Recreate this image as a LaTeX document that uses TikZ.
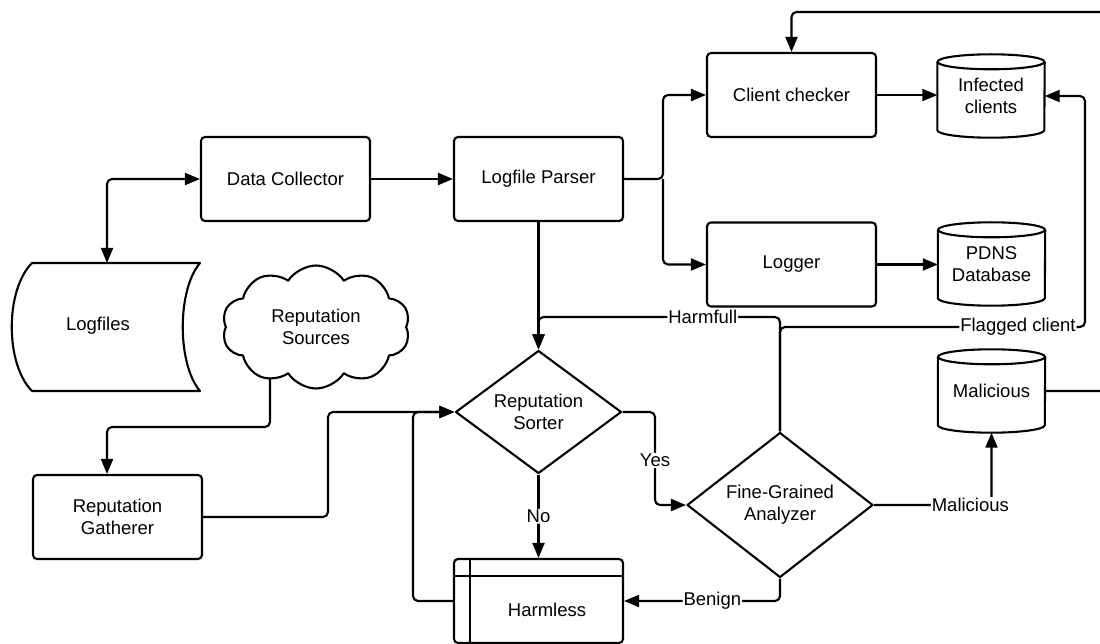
\documentclass[tikz,border=0pt]{standalone}
\usepackage{fontspec}
\setmainfont{Liberation Sans}
\usetikzlibrary{shapes.geometric,shapes.symbols,arrows.meta,calc}
\pgfdeclarelayer{bg}\pgfsetlayers{bg,main}
\newcommand\dfont{\fontsize{18.5}{22}\selectfont}
\newcommand\cyl[4]{%
  \node[cylt] (#1) at (#2,#3) {#4};
  \draw[ln] ([yshift=-7.5pt]#1.north west) -- ([yshift=7.5pt]#1.south west)
    arc[start angle=180,end angle=360,x radius=53.5pt,y radius=7.5pt]
    -- ([yshift=-7.5pt]#1.north east);
  \draw[ln] ([yshift=-7.5pt]#1.north) ellipse[x radius=53.5pt,y radius=7.5pt];
}
\begin{document}
\begin{tikzpicture}[x=1pt,y=1pt,
  ln/.style={line width=2.1pt, line join=round},
  conn/.style={ln, rounded corners=5pt},
  tip/.tip={Triangle[length=15pt,width=12pt]},
  arr/.style={conn, -tip},
  box/.style={ln, draw, rounded corners=4pt, fill=white, minimum width=169pt,
    minimum height=84pt, align=center, font=\dfont, inner sep=2pt},
  dia/.style={ln, draw, diamond, fill=white, inner sep=0pt, align=center, font=\dfont},
  cylt/.style={minimum width=107pt, minimum height=83pt, inner sep=0pt, align=center, font=\dfont},
  lab/.style={fill=white, inner sep=1pt, font=\dfont}]
\useasboundingbox (0,0) rectangle (1100,-644);

% nodes
\node[box] (dc) at (285.5,-179) {Data Collector};
\node[box] (lp) at (538.5,-179) {Logfile Parser};
\node[box] (cc) at (791.5,-95) {Client checker};
\node[box] (lg) at (791.5,-264.5) {Logger};
\node[box] (gath) at (117.5,-517) {Reputation\\Gatherer};
\node[box] (hl) at (538.5,-601) {\hspace*{17pt}\rule{0pt}{31pt}Harmless};
\draw[ln] ([xshift=17pt]hl.north west) -- ([xshift=17pt]hl.south west);
\draw[ln] ([yshift=-18pt]hl.north west) -- ([yshift=-18pt]hl.north east);

\node[dia, aspect=1.35, minimum width=166pt, minimum height=123pt] (rsort) at (538.5,-412) {Reputation\\Sorter};
\node[dia, aspect=1.28, minimum width=186pt, minimum height=145pt] (fg) at (780,-505) {Fine-Grained\\Analyzer};

\node[ln, draw, cloud, cloud puffs=10, cloud puff arc=115, aspect=1.5, fill=white,
  minimum width=188pt, minimum height=123pt, inner sep=0pt, align=center, font=\dfont]
  (rsrc) at (316,-327) {Reputation\\Sources};

\cyl{inf}{991}{-96}{Infected\\clients}
\cyl{pdns}{991.5}{-264}{PDNS\\Database}
\cyl{mal}{991.5}{-391}{Malicious}

% Logfiles storage shape
\node[font=\dfont] (logf) at (98,-326) {Logfiles};
\draw[ln] (32,-263) -- (200,-263)
  .. controls (177,-290) and (177,-364) .. (200,-391)
  -- (32,-391)
  .. controls (5,-364) and (5,-290) .. (32,-263) -- cycle;
\coordinate (lftop) at (107,-263);

% connectors
\draw[conn, tip-tip] (dc.west) -| (lftop);
\draw[arr] (dc.east) -- (lp.west);
\coordinate (br) at (663,-179);
\draw[arr] (lp.east) -- (br) |- (cc.west);
\draw[arr] (br) |- (lg.west);
\draw[arr] (cc.east) -- (cc.east -| inf.west);
\draw[arr] (lg.east) -- (lg.east -| pdns.west);
\draw[arr] (lp.south) -- (rsort.north);

\coordinate (cb) at ([xshift=-46pt,yshift=15pt]rsrc.south);
\coordinate (cbl) at (270,-427);
\coordinate (gin) at ([xshift=-10.5pt]gath.north);
\begin{pgfonlayer}{bg}
\draw[arr] (cb) -- (cbl) -| (gin);
\end{pgfonlayer}

\coordinate (gj) at (328,-517);
\draw[arr] (gath.east) -- (gj) |- (rsort.west);
\coordinate (hj) at (413,-412);
\draw[arr] (hl.west) -| (hj) -- (rsort.west);

\coordinate (yj) at (655,-412);
\draw[arr] (rsort.east) -- (yj) |- node[lab, pos=0.26]{Yes} (fg.west);
\draw[arr] (rsort.south) -- node[lab]{No} (hl.north);
\draw[arr] (fg.south) |- node[lab, pos=0.717]{Benign} (hl.east);
\draw[arr] (fg.east) -| node[lab, pos=0.41]{Malicious} (mal.south);

\coordinate (hf1) at (780,-317);
\coordinate (hf2) at (538.5,-317);
\draw[arr] (fg.north) -- (hf1) -- node[lab, pos=0.32]{Harmfull} (hf2) -- (rsort.north);
\coordinate (fl1) at (780,-327);
\coordinate (fl2) at (1085,-327);
\coordinate (fl3) at (1085,-96);
\draw[arr] (fg.north) -- (fl1) -- node[lab, pos=0.78]{Flagged client} (fl2) -- (fl3) -- (inf.east);

\coordinate (m1) at (1115,-391);
\coordinate (m2) at (1115,-12);
\draw[arr] (mal.east) -- (m1) -- (m2) -| (cc.north);
\end{tikzpicture}
\end{document}
